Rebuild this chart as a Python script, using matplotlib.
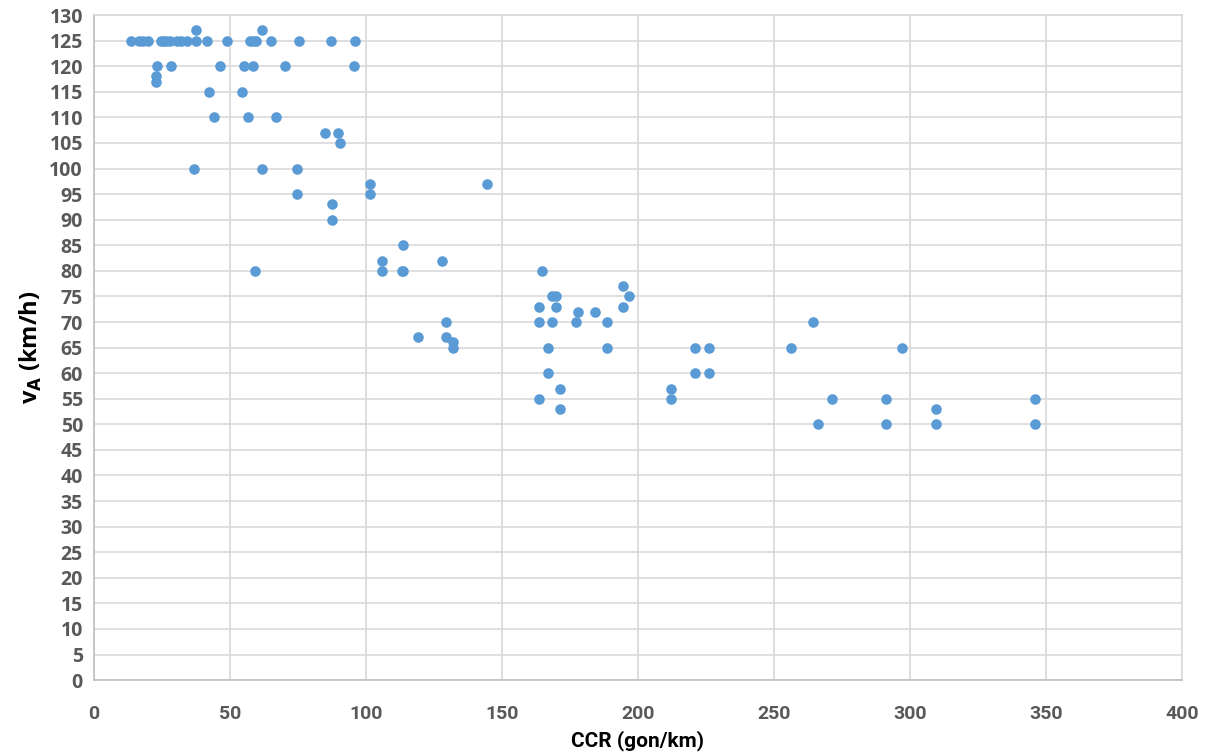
import matplotlib
matplotlib.use("Agg")
import matplotlib.pyplot as plt

# CCR (gon/km) and v_A (km/h)
ccr = [13.5, 16.5, 18.0, 20.0, 24.5, 25.5, 26.5, 28.0, 30.5, 32.0, 34.0, 37.5, 41.7, 48.8,
       57.5, 58.6, 59.5, 65.0, 75.3, 87.2, 96.0,
       37.5, 61.8,
       23.2, 28.4, 46.4, 55.0, 58.6, 70.3, 95.5,
       22.9, 22.9,
       42.3, 54.3,
       44.1, 56.6, 66.8,
       85.0, 89.6, 90.4,
       36.9, 61.9, 74.5,
       101.5, 144.6, 74.5, 101.5,
       87.5, 87.5,
       113.7, 105.9, 127.8,
       59.3, 105.9, 113.1, 113.7,
       119.0, 129.5, 129.5, 132.0, 132.0,
       164.6, 194.6, 168.3, 169.9, 196.6,
       163.7, 169.9, 194.6, 177.9, 184.3,
       163.7, 168.3, 177.1, 188.6,
       167.0, 188.6, 221.1, 226.1,
       167.0, 221.1, 226.1,
       171.4, 212.1, 163.5, 212.1, 171.4,
       264.3, 256.4, 297.0, 271.5, 291.2, 346.1, 309.7,
       266.3, 291.2, 309.7, 346.1]
va = [125, 125, 125, 125, 125, 125, 125, 125, 125, 125, 125, 125, 125, 125,
      125, 125, 125, 125, 125, 125, 125,
      127, 127,
      120, 120, 120, 120, 120, 120, 120,
      118, 117,
      115, 115,
      110, 110, 110,
      107, 107, 105,
      100, 100, 100,
      97, 97, 95, 95,
      93, 90,
      85, 82, 82,
      80, 80, 80, 80,
      67, 67, 70, 66, 65,
      80, 77, 75, 75, 75,
      73, 73, 73, 72, 72,
      70, 70, 70, 70,
      65, 65, 65, 65,
      60, 60, 60,
      57, 57, 55, 55, 53,
      70, 65, 65, 55, 55, 55, 53,
      50, 50, 50, 50]

x_ticks = list(range(0, 401, 50))
y_ticks = list(range(0, 131, 5))

fig = plt.figure(figsize=(12.06, 7.54), dpi=100)
ax = fig.add_axes([0.078, 0.098, 0.902, 0.882])

ax.scatter(ccr, va, s=58, color="#5B9BD5", zorder=3, linewidths=0)

ax.set_xlim(0, 400)
ax.set_ylim(0, 130)
ax.set_xticks(x_ticks)
ax.set_yticks(y_ticks)
ax.grid(True, color="#D9D9D9", linewidth=1.2, zorder=0)
ax.set_axisbelow(True)
for s in ax.spines.values():
    s.set_color("#D9D9D9")
    s.set_linewidth(1.2)
ax.spines["left"].set_color("#BFBFBF")
ax.spines["bottom"].set_color("#BFBFBF")
ax.tick_params(length=0, pad=8)

for lab in ax.get_yticklabels():
    lab.set_fontfamily(["Open Sans", "DejaVu Sans"])
    lab.set_fontweight("bold")
    lab.set_fontsize(14)
    lab.set_color("#595959")
for lab in ax.get_xticklabels():
    lab.set_fontfamily(["Liberation Sans Narrow", "Roboto", "DejaVu Sans"])
    lab.set_fontweight("bold")
    lab.set_fontsize(14)
    lab.set_color("#595959")
ax.tick_params(axis="x", pad=18)

ax.set_xlabel("CCR (gon/km)", fontsize=15, fontweight="bold",
              family=["Liberation Sans Narrow", "Roboto", "DejaVu Sans"], labelpad=5)
ax.set_ylabel(r"v$_\mathbf{A}$ (km/h)", fontsize=17, fontweight="bold",
              family=["Open Sans", "DejaVu Sans"], labelpad=4)

fig.savefig("out.png", dpi=100)
